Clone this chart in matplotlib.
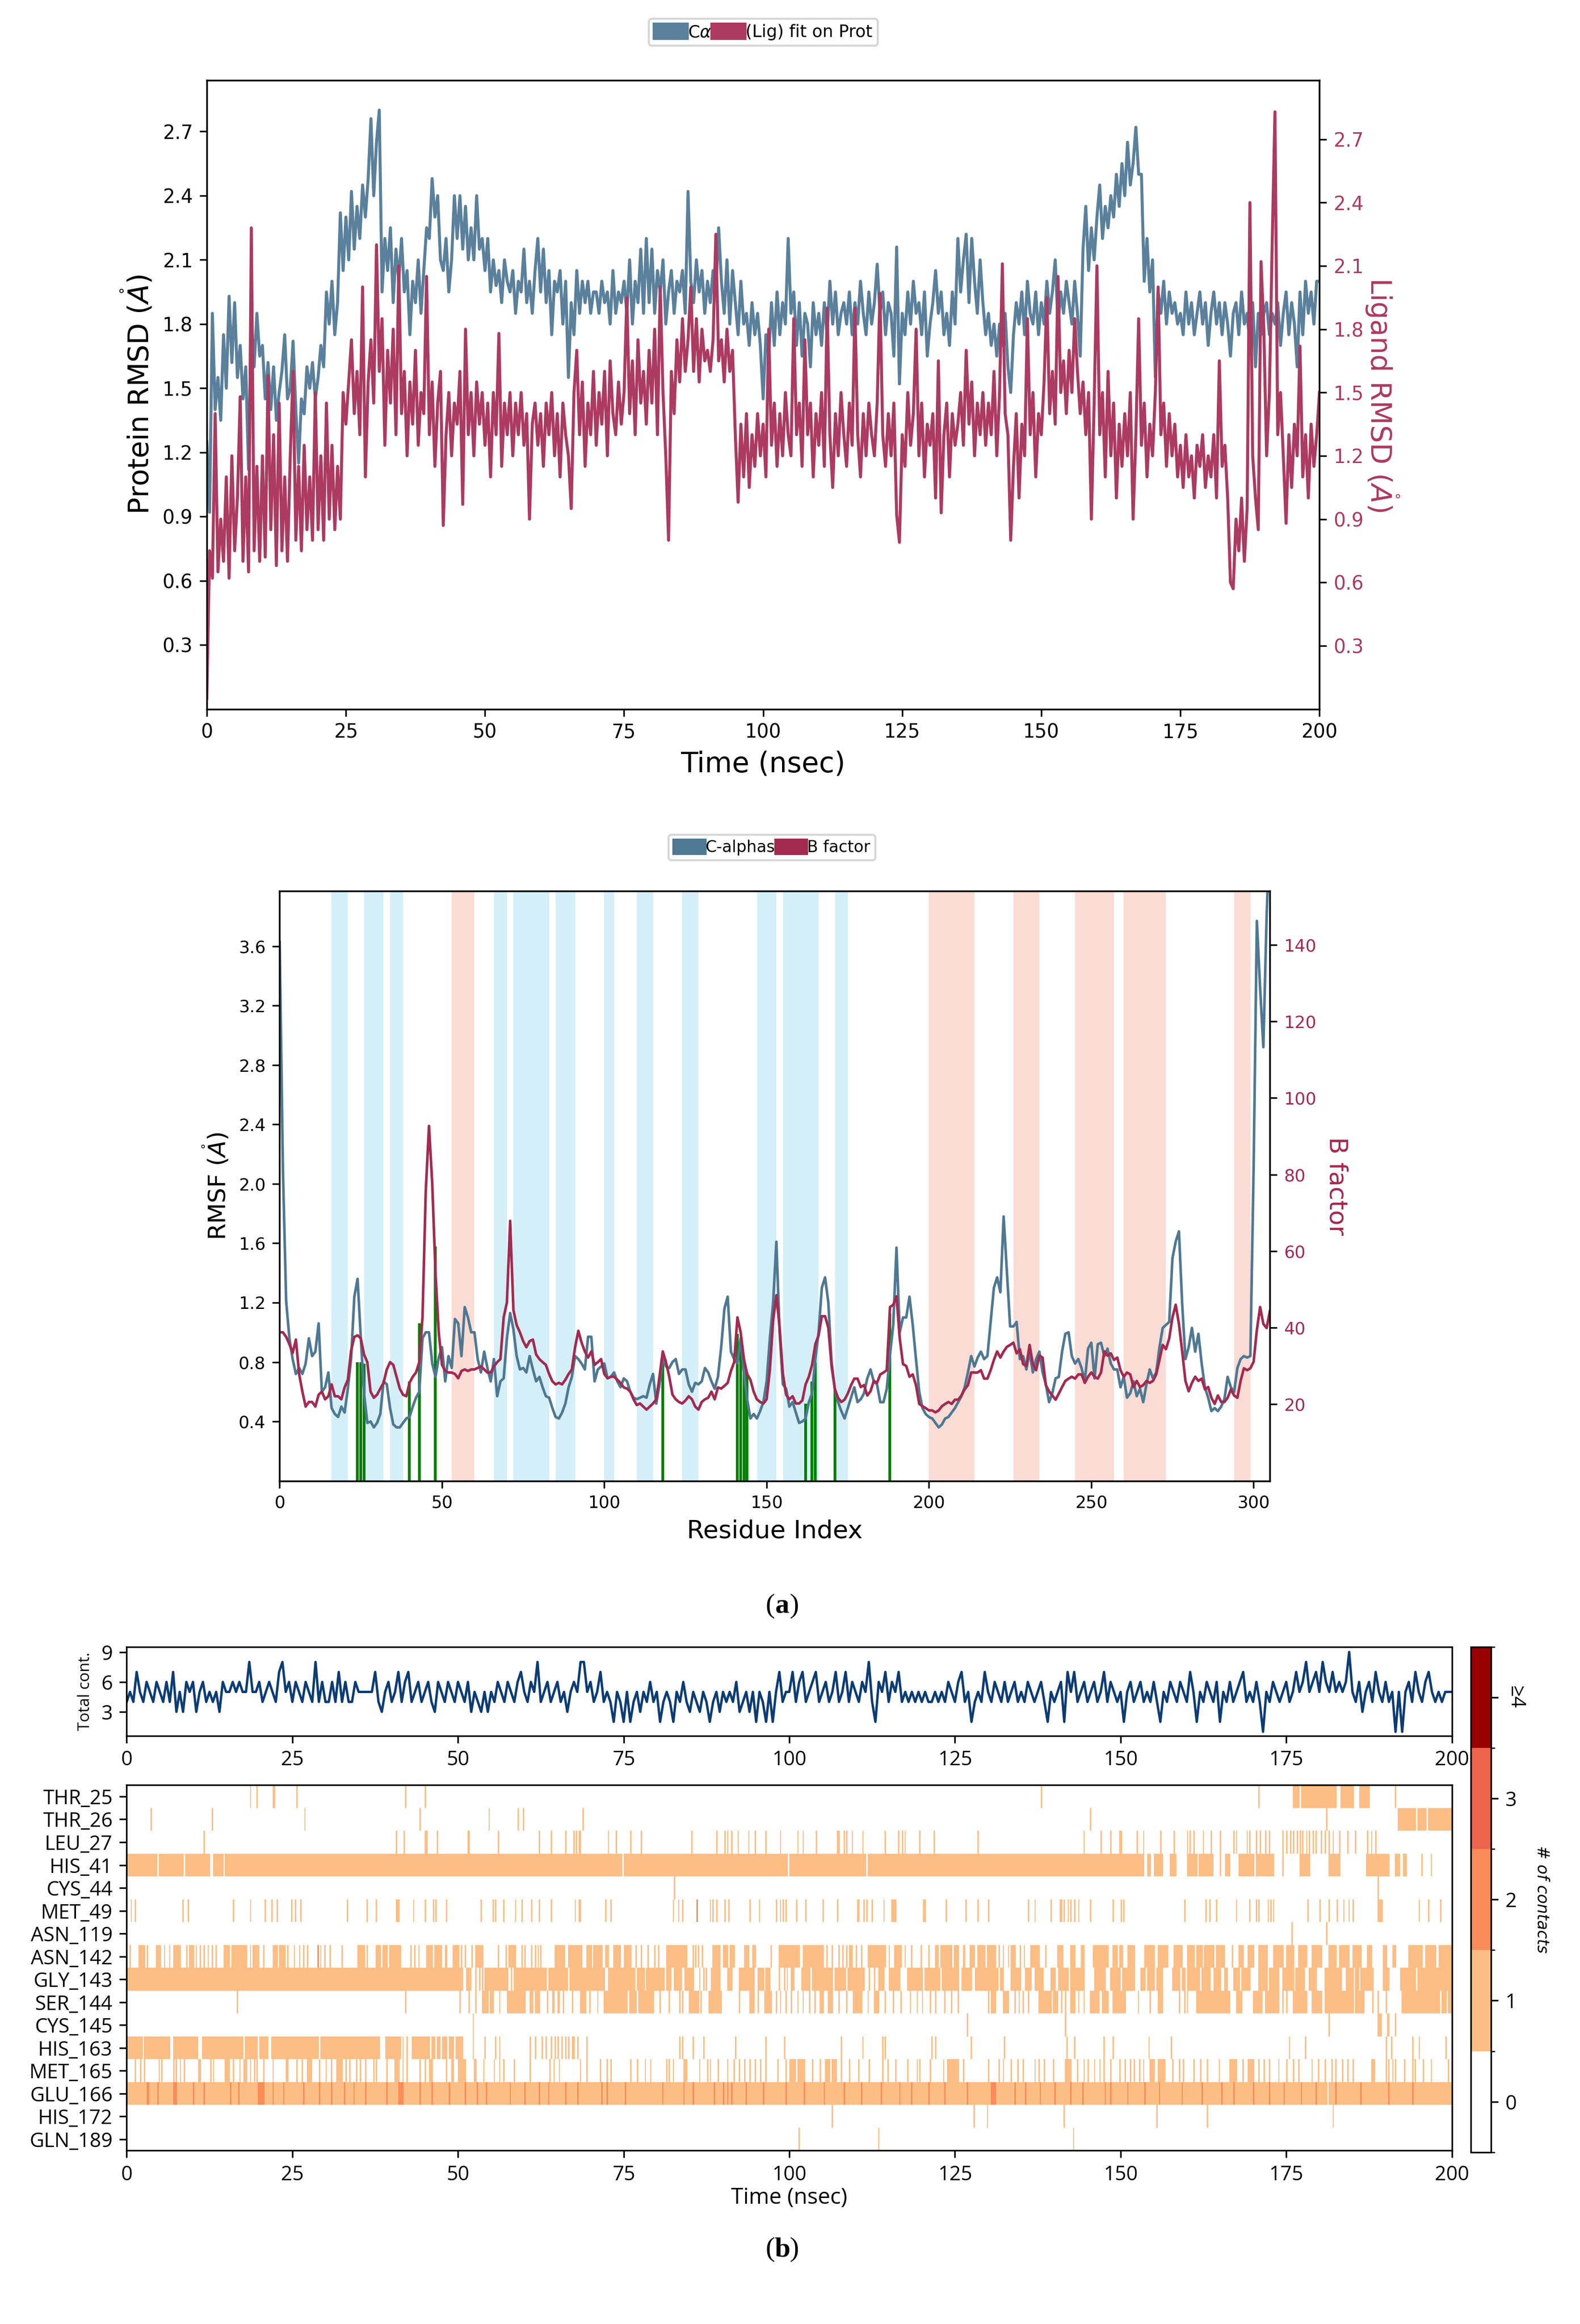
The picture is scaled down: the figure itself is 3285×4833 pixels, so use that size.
import numpy as np
import matplotlib.pyplot as plt
from matplotlib.patches import Patch
from matplotlib.colors import ListedColormap, BoundaryNorm

# ---------------- RMSD (every 0.5 ns, 0-200 ns) ----------------
protein_rmsd = [
    1.25, 0.92, 1.85, 1.4, 1.55, 1.35, 1.75, 1.5, 1.93, 1.62,
    1.9, 1.55, 1.7, 1.45, 1.6, 1.12, 1.82, 1.6, 1.85, 1.65,
    1.7, 1.45, 1.62, 1.4, 1.6, 1.35, 1.48, 1.58, 1.75, 1.45,
    1.5, 1.72, 1.4, 1.15, 1.45, 1.38, 1.6, 1.5, 1.62, 1.45,
    1.55, 1.7, 1.6, 1.95, 1.8, 2.0, 1.75, 1.9, 2.32, 2.05,
    2.3, 2.1, 2.42, 2.15, 2.35, 2.2, 2.45, 2.3, 2.48, 2.76,
    2.4, 2.65, 2.8, 1.95, 2.2, 2.05, 2.25, 1.9, 2.15, 2.0,
    2.2, 1.95, 2.05, 1.75, 2.0, 1.9, 2.1, 1.85, 2.05, 2.25,
    2.2, 2.48, 2.3, 2.4, 2.1, 2.05, 2.2, 1.95, 2.1, 2.4,
    2.2, 2.4, 2.15, 2.35, 2.1, 2.25, 2.1, 2.4, 2.15, 2.2,
    2.05, 2.2, 1.95, 2.1, 1.98, 2.05, 1.9, 2.1, 2.0, 1.95,
    2.05, 1.85, 2.0, 1.95, 2.15, 1.9, 2.0, 1.85, 2.05, 2.2,
    1.95, 2.15, 1.9, 2.05, 1.75, 2.0, 1.95, 2.05, 1.8, 2.0,
    1.55, 1.9, 1.75, 2.05, 1.85, 2.0, 1.9, 2.0, 1.85, 1.95,
    1.95, 1.85, 2.0, 1.9, 1.95, 1.8, 2.05, 1.85, 1.95, 1.9,
    2.0, 1.85, 2.1, 1.8, 2.0, 1.9, 2.15, 1.85, 2.2, 1.9,
    2.15, 1.85, 2.05, 1.95, 2.1, 1.8, 1.95, 2.05, 1.85, 2.0,
    1.95, 2.05, 1.85, 2.42, 2.0, 1.9, 2.1, 1.95, 2.05, 1.85,
    2.0, 1.9, 2.05, 1.95, 2.25, 2.0, 1.85, 2.1, 1.8, 2.05,
    1.9, 1.75, 2.0, 1.8, 1.85, 1.7, 1.9, 1.75, 1.85, 1.7,
    1.45, 1.75, 1.65, 1.9, 1.7, 1.95, 1.75, 1.9, 1.8, 2.2,
    1.85, 1.95, 1.7, 1.9, 1.65, 1.85, 1.8, 1.6, 1.9, 1.75,
    1.85, 1.7, 1.9, 1.75, 2.0, 1.8, 1.95, 1.75, 1.85, 1.9,
    1.8, 1.95, 1.75, 1.9, 1.8, 2.0, 1.85, 1.75, 1.95, 1.8,
    1.9, 2.08, 1.85, 1.95, 1.75, 1.9, 1.85, 1.65, 2.16, 1.52,
    1.85, 1.75, 1.95, 1.8, 2.0, 1.85, 1.9, 1.75, 1.95, 1.65,
    1.8, 1.9, 2.05, 1.85, 1.95, 1.75, 1.85, 1.7, 1.95, 1.8,
    2.2, 1.95, 2.1, 2.22, 1.9, 2.2, 2.0, 1.85, 2.1, 1.9,
    1.75, 1.85, 1.7, 1.8, 1.65, 1.8, 1.7, 1.85, 1.6, 1.48,
    1.75, 1.9, 1.8, 1.95, 1.75, 2.0, 1.85, 1.8, 1.95, 1.75,
    1.9, 1.8, 2.0, 1.85, 1.95, 2.1, 1.8, 1.95, 1.85, 2.0,
    1.9, 1.8, 2.0, 1.85, 1.65, 2.15, 2.35, 2.05, 2.25, 2.1,
    2.3, 2.45, 2.2, 2.35, 2.25, 2.4, 2.3, 2.5, 2.35, 2.55,
    2.4, 2.65, 2.45, 2.55, 2.72, 2.5, 2.5, 2.0, 2.2, 1.95,
    2.1, 1.55, 1.95, 1.85, 2.0, 1.8, 1.95, 1.85, 1.9, 1.8,
    1.85, 1.75, 1.95, 1.8, 1.9, 1.75, 1.85, 1.95, 1.8, 1.9,
    1.7, 1.85, 1.95, 1.8, 1.9, 1.75, 1.9, 1.8, 1.65, 1.85,
    1.9, 1.75, 1.95, 1.8, 1.85, 1.7, 1.9, 1.6, 1.85, 1.75,
    1.85, 1.9, 1.75, 1.85, 1.8, 1.9, 1.7, 1.85, 1.95, 1.75,
    1.9, 1.8, 1.6, 1.95, 1.75, 2.0, 1.85, 1.95, 1.8, 2.0,
    2.0]

ligand_rmsd = [
    0.05, 0.75, 0.62, 1.4, 0.65, 0.9, 0.7, 1.1, 0.62, 1.2,
    0.75, 1.0, 1.48, 0.7, 1.1, 0.65, 2.28, 0.75, 1.15, 0.7,
    1.2, 0.72, 1.58, 0.85, 1.3, 0.68, 1.45, 0.75, 1.1, 0.7,
    1.2, 1.6, 0.8, 1.15, 0.75, 1.25, 0.85, 1.1, 0.8, 1.5,
    0.85, 1.2, 0.8, 1.45, 0.9, 1.25, 0.85, 1.15, 0.9, 1.5,
    1.35, 1.55, 1.75, 1.4, 1.6, 1.3, 2.0, 1.1, 1.55, 1.75,
    1.45, 2.2, 1.6, 1.85, 1.25, 1.7, 1.45, 1.8, 1.3, 2.1,
    1.4, 1.6, 1.2, 1.55, 1.35, 1.7, 1.25, 1.5, 1.4, 2.05,
    1.3, 1.55, 1.15, 1.45, 1.6, 0.87, 1.3, 1.5, 1.2, 1.45,
    1.35, 1.6, 0.97, 1.8, 1.3, 1.5, 1.2, 1.55, 1.35, 1.5,
    1.25, 1.45, 1.1, 1.5, 1.3, 1.78, 1.15, 1.45, 1.3, 1.5,
    1.2, 1.45, 1.3, 1.5, 1.25, 1.4, 0.9, 1.35, 1.45, 1.25,
    1.4, 1.15, 1.45, 1.3, 1.5, 1.2, 1.4, 1.1, 1.45, 1.3,
    1.2, 0.95, 1.5, 1.7, 1.3, 1.55, 1.15, 1.45, 1.3, 1.6,
    1.25, 1.5, 1.35, 1.6, 1.2, 1.65, 1.4, 1.3, 1.55, 1.35,
    1.5, 1.95, 1.4, 1.65, 1.3, 1.75, 1.45, 1.6, 1.35, 1.7,
    1.45, 1.8, 1.3, 2.0, 1.5, 1.2, 0.8, 1.6, 1.4, 1.75,
    1.55, 1.85, 1.6, 1.75, 2.0, 1.6, 1.85, 1.55, 1.8, 1.65,
    1.7, 1.6, 1.75, 2.25, 1.65, 1.75, 1.55, 1.8, 1.6, 1.7,
    1.3, 0.98, 1.35, 1.1, 1.4, 1.05, 1.3, 1.15, 1.4, 1.2,
    1.35, 1.1, 1.8, 1.25, 1.45, 1.15, 1.4, 1.2, 1.5, 1.3,
    1.2, 1.85, 1.3, 1.45, 1.15, 1.75, 1.3, 1.45, 1.1, 1.4,
    1.25, 1.5, 1.15, 1.9, 1.3, 1.05, 1.4, 1.2, 1.5, 1.3,
    1.15, 1.45, 1.25, 1.9, 1.3, 1.1, 1.4, 1.2, 1.45, 1.3,
    1.2, 1.45, 1.97, 1.3, 1.15, 1.4, 1.2, 1.45, 0.92, 0.79,
    1.3, 1.15, 1.5, 1.25, 1.4, 1.8, 1.2, 1.45, 1.1, 1.35,
    1.25, 1.4, 1.0, 1.65, 0.93, 1.3, 1.45, 1.1, 1.4, 1.25,
    1.35, 1.5, 1.25, 1.7, 1.35, 1.55, 1.2, 1.45, 1.3, 1.5,
    1.25, 1.45, 1.3, 1.6, 1.2, 1.5, 2.11, 1.4, 1.3, 0.8,
    1.15, 1.4, 1.0, 1.35, 1.2, 1.85, 1.3, 1.5, 1.1, 1.4,
    1.3, 1.55, 1.95, 1.4, 1.6, 1.35, 2.05, 1.5, 1.65, 1.4,
    1.7, 1.5, 1.85, 1.6, 1.4, 1.55, 1.3, 1.5, 0.9, 1.45,
    2.1, 1.3, 1.5, 1.1, 1.6, 1.2, 1.45, 1.0, 1.35, 1.15,
    1.4, 1.2, 1.5, 0.9, 1.3, 1.85, 1.25, 1.45, 1.1, 1.35,
    1.2, 1.5, 2.0, 1.3, 1.45, 1.15, 1.4, 1.2, 1.35, 1.1,
    1.25, 1.05, 1.3, 1.1, 1.2, 1.0, 1.25, 1.15, 1.3, 1.05,
    1.2, 1.1, 1.3, 1.0, 1.65, 1.15, 1.25, 1.0, 0.6, 0.57,
    0.9, 0.75, 1.0, 0.7, 0.95, 2.4, 1.2, 1.0, 0.85, 2.12,
    1.8, 1.2, 1.5, 2.2, 2.83, 1.3, 1.5, 1.2, 0.88, 1.3,
    1.05, 1.35, 1.2, 1.72, 1.1, 1.3, 1.0, 1.35, 1.15, 1.3,
    1.5]

# ---------------- RMSF / B factor per residue index ----------------
ca_rmsf = [
    3.63, 2.1, 1.21, 0.96, 0.82, 0.72, 0.76, 0.72, 0.79, 0.96,
    0.84, 0.87, 1.06, 0.6, 0.63, 0.73, 0.49, 0.45, 0.43, 0.5,
    0.46, 0.62, 0.82, 1.24, 1.36, 0.96, 0.59, 0.39, 0.4, 0.36,
    0.39, 0.45, 0.67, 0.65, 0.49, 0.38, 0.36, 0.36, 0.39, 0.42,
    0.43, 0.5, 0.56, 0.6, 0.96, 1.0, 1.0, 0.79, 0.7, 0.83,
    0.9, 0.67, 0.84, 0.76, 1.09, 1.06, 0.84, 1.17, 1.1, 1.0,
    1.0, 0.82, 0.73, 0.87, 0.76, 0.67, 0.82, 0.57, 0.67, 0.69,
    0.96, 1.13, 1.02, 0.84, 0.75, 0.76, 0.73, 0.84, 0.75, 0.67,
    0.7, 0.63, 0.57, 0.56, 0.49, 0.43, 0.42, 0.46, 0.52, 0.63,
    0.7, 0.84, 0.82, 0.79, 0.75, 0.97, 0.97, 0.67, 0.75, 0.77,
    0.79, 0.69, 0.7, 0.73, 0.67, 0.63, 0.69, 0.67, 0.6, 0.56,
    0.55, 0.56, 0.57, 0.56, 0.65, 0.72, 0.52, 0.65, 0.83, 0.77,
    0.76, 0.8, 0.82, 0.72, 0.75, 0.75, 0.65, 0.6, 0.66, 0.65,
    0.67, 0.76, 0.73, 0.67, 0.62, 0.7, 0.9, 1.16, 1.24, 0.87,
    0.82, 0.79, 0.96, 0.73, 0.55, 0.42, 0.45, 0.42, 0.47, 0.53,
    0.67, 0.96, 1.2, 1.61, 1.0, 0.65, 0.62, 0.5, 0.53, 0.46,
    0.39, 0.4, 0.42, 0.53, 0.59, 0.82, 1.0, 1.3, 1.37, 1.2,
    0.8, 0.62, 0.53, 0.47, 0.42, 0.49, 0.56, 0.63, 0.53, 0.55,
    0.59, 0.69, 0.75, 0.67, 0.65, 0.53, 0.53, 0.62, 0.85, 1.05,
    1.57, 1.0, 1.1, 1.1, 1.24, 1.05, 0.82, 0.6, 0.49, 0.45,
    0.43, 0.42, 0.39, 0.36, 0.38, 0.42, 0.43, 0.46, 0.49, 0.53,
    0.57, 0.63, 0.73, 0.84, 0.77, 0.83, 0.87, 0.82, 0.84, 1.07,
    1.3, 1.37, 1.27, 1.78, 1.41, 1.04, 1.04, 1.07, 0.82, 0.84,
    0.75, 0.87, 0.73, 0.82, 0.87, 0.73, 0.65, 0.53, 0.59, 0.69,
    0.7, 0.87, 0.99, 1.0, 0.84, 0.79, 0.82, 0.76, 0.67, 0.89,
    0.93, 0.69, 0.92, 0.93, 0.84, 0.89, 0.79, 0.75, 0.75, 0.63,
    0.7, 0.56, 0.59, 0.67, 0.57, 0.62, 0.53, 0.65, 0.75, 0.69,
    0.73, 0.9, 1.03, 1.05, 1.07, 1.5, 1.61, 1.68, 1.19, 0.82,
    0.9, 1.03, 0.87, 0.99, 0.79, 0.63, 0.56, 0.47, 0.49, 0.47,
    0.5, 0.55, 0.7, 0.63, 0.6, 0.76, 0.82, 0.84, 0.83, 0.84,
    2.1, 3.77, 3.32, 2.92, 3.8, 4.4]

b_factor = [
    38.8, 38.8, 37.6, 35.7, 33.4, 36.9, 27.9, 23.3, 19.4, 20.6,
    20.6, 19.4, 22.5, 23.3, 21.3, 22.1, 25.2, 22.1, 22.1, 21.3,
    24.4, 26.4, 34.0, 37.6, 38.0, 37.2, 33.0, 31.0, 23.3, 21.7,
    22.5, 24.1, 25.6, 29.1, 31.0, 30.3, 27.2, 24.1, 22.5, 22.1,
    25.6, 27.2, 28.3, 31.0, 42.7, 75.7, 92.7, 77.6, 54.3, 38.8,
    30.3, 28.7, 28.3, 28.3, 27.9, 26.8, 28.7, 29.1, 28.7, 29.1,
    29.1, 29.5, 29.9, 29.1, 28.3, 28.3, 29.9, 31.0, 31.8, 42.7,
    46.6, 67.9, 44.6, 40.7, 38.8, 36.5, 34.9, 36.5, 36.9, 33.0,
    31.8, 31.0, 30.3, 27.9, 26.0, 25.2, 25.6, 25.2, 26.4, 27.9,
    29.1, 34.9, 39.2, 36.1, 33.8, 32.2, 33.8, 30.3, 31.0, 31.8,
    27.9, 26.8, 27.2, 27.2, 26.4, 25.6, 24.4, 24.1, 23.3, 21.3,
    19.8, 20.2, 19.4, 18.6, 19.4, 20.2, 21.3, 27.2, 33.8, 31.0,
    27.2, 22.5, 21.3, 20.6, 20.2, 21.0, 22.1, 21.3, 19.4, 18.6,
    20.6, 21.3, 21.7, 23.3, 21.3, 24.4, 24.1, 24.8, 25.6, 28.7,
    31.0, 42.7, 38.8, 31.8, 27.9, 26.4, 23.3, 21.3, 20.6, 20.2,
    21.3, 29.1, 42.0, 48.5, 40.0, 28.0, 22.5, 21.3, 22.1, 20.2,
    20.2, 21.0, 25.2, 27.2, 30.3, 35.7, 38.0, 43.0, 43.0, 40.0,
    30.0, 24.0, 21.7, 20.6, 21.2, 22.8, 25.0, 26.7, 26.7, 24.5,
    25.0, 22.3, 23.4, 26.1, 25.6, 27.8, 28.3, 28.9, 45.4, 46.0,
    48.2, 37.2, 30.5, 30.0, 27.2, 27.8, 25.0, 20.1, 19.5, 19.0,
    18.4, 18.4, 17.9, 18.4, 19.5, 20.1, 20.6, 20.1, 21.2, 21.2,
    22.3, 23.9, 25.0, 28.3, 28.3, 28.3, 28.9, 26.7, 26.7, 28.9,
    31.6, 33.8, 32.2, 33.8, 35.0, 35.5, 36.1, 33.3, 34.4, 30.5,
    30.0, 35.5, 30.5, 28.9, 32.7, 32.2, 25.0, 23.4, 22.3, 21.2,
    22.8, 24.5, 26.1, 26.7, 27.2, 26.7, 27.8, 27.8, 25.6, 27.2,
    28.3, 27.2, 26.7, 28.3, 33.8, 32.7, 33.3, 31.6, 32.2, 28.9,
    27.2, 28.3, 27.8, 24.5, 26.1, 24.5, 25.0, 26.1, 25.6, 26.1,
    27.8, 31.6, 35.5, 34.4, 37.2, 42.7, 46.0, 41.0, 33.8, 26.1,
    23.4, 25.6, 27.2, 26.1, 26.7, 23.9, 24.5, 21.7, 20.1, 22.3,
    20.6, 20.6, 21.7, 23.9, 22.3, 21.7, 26.1, 29.4, 28.9, 29.4,
    31.1, 39.4, 45.4, 41.0, 39.9, 44.3]

helix_spans = [(53, 60), (200, 214), (226, 234), (245, 257), (260, 273), (294, 299)]
strand_spans = [(16, 21), (26, 32), (34, 38), (66, 70), (72, 83), (85, 91), (100, 103),
                (110, 115), (124, 129), (147, 153), (155, 166), (171, 175)]

contact_res = [24, 25, 26, 40, 43, 48, 118, 141, 142, 143, 144, 162, 164, 165, 171, 188]
contact_height = [0.8, 0.8, 0.79, 0.67, 1.06, 1.58, 0.83, 0.99, 0.96, 0.8, 0.73,
                  0.52, 0.67, 0.8, 0.62, 1.13]

# ---------------- protein-ligand contacts ----------------
total_contacts = ("4547546546 5464735365 6356454536 5565655855 6456547856 "
                  "4654654846 4464746446 5555574356 4574674564 5643654654 "
                  "6546354353 5465465467 5465845645 6453565885 6457454254 "
                  "2524535464 5245425464 3543542453 5454634535 2542525745 "
                  "5746745674 5645745746 5465842657 4657454545 4544545465 "
                  "4674524547 5465464564 5465456425 4562757456 4564574654 "
                  "5256456454 6425465465 4752546546 2546456745 4641546545 "
                  "6457568567 5865756569 5463564754 6451515647 5467545455 5")

residues = ["THR_25", "THR_26", "LEU_27", "HIS_41", "CYS_44", "MET_49", "ASN_119",
            "ASN_142", "GLY_143", "SER_144", "CYS_145", "HIS_163", "MET_165",
            "GLU_166", "HIS_172", "GLN_189"]

# contact times in ns: single number = one frame, tuple = span
thr25 = [18.7, 19.6, (22.0, 22.3), 25.7, 42.1, 45.0, 138.0, 170.8, (176.0, 176.8),
         (177.3, 178.3), (178.6, 179.4), (179.6, 180.5), (180.7, 182.6), (183.3, 185.0),
         (186.0, 187.5), 191.6]
thr26 = [3.8, 12.9, 26.9, 44.3, 54.6, 59.1, 59.9, 68.9, 145.6, 181.1, (191.8, 193.4),
         (193.6, 194.6), (194.8, 196.2), (196.4, 199.8)]
leu27 = [11.7, 40.7, 41.9, 45.0, 45.3, 46.9, 51.4, 51.8, 56.0, 62.2, 64.1, 66.2, 67.5,
         67.9, 68.2, 68.6, 72.7, 73.9, 76.1, 77.7, 85.3, 89.1, 90.2, 90.7, 91.3, 92.2,
         93.9, 94.9, 96.5, 98.7, 101.3, 102.0, 104.0, 107.2, 107.6, 108.3, 108.7, 109.5,
         111.0, 114.6, 116.4, 117.0, 117.6, 119.7, 121.9, 128.5, 144.6, 147.2, 148.4,
         149.8, 150.2, 152.4, 153.6, 156.0, 158.0, 160.0, 160.5, 161.0, 162.4, 163.7,
         165.2, 167.0, 167.4, 169.1, 169.6, 170.4, 171.2, 171.9, 172.6, 174.6, 175.1,
         175.7, 176.2, 176.7, 177.1, 177.6, 178.0, 178.5, 179.0, 179.6, 180.3, 180.9,
         181.5, 182.2, 183.0, 184.3, 185.4, 187.3, 187.9, 188.6]
his41 = [(0, 3.6), (3.9, 4.5), (4.9, 8.5), (8.8, 10.3), (10.6, 12.4), (13.0, 13.6),
         (13.9, 14.5), (14.8, 15.6), (15.9, 38.0), (38.2, 69.9), (70.1, 74.8),
         (75.0, 78.7), (78.9, 82.0), (82.2, 86.3), (86.5, 88.2), (88.4, 99.8),
         (100.0, 107.8), (108.0, 111.6), (111.8, 123.0), (123.2, 130.5), (130.7, 134.9),
         (135.1, 137.7), (137.9, 141.9), (142.1, 148.5), (148.7, 150.5), (150.7, 153.6),
         (154.2, 154.6), (155.0, 156.3), (157.6, 158.3), (160.1, 161.4), (161.9, 163.8),
         165.2, (165.9, 166.6), (167.9, 170.0), (170.4, 173.0), 174.5, (177.1, 178.6),
         (181.5, 183.0), (187.1, 190.5), (191.4, 192.0), (192.7, 193.1), 195.5, 196.8]
cys44 = [82.8, 188.8]
met49 = [0.7, 1.4, 8.6, 9.3, 16.0, 18.7, 20.9, 21.9, 22.7, 24.9, 25.5, 26.3, 33.3, 36.3,
         37.7, (40.7, 41.0), 43.3, 45.1, 46.4, 46.8, 48.4, 53.5, 55.2, 55.6, 56.9, 58.6,
         59.6, 61.0, 62.2, 64.1, 67.8, 68.2, 68.6, 72.2, 73.1, 82.6, 83.3, 83.9, 86.1,
         88.1, 88.6, 89.1, 90.3, 90.9, 94.1, 95.6, 98.1, 98.7, 99.1, 99.6, 101.1, 102.5,
         105.0, 107.3, 110.2, 110.6, 111.2, 111.7, 112.5, 114.2, (115.5, 116.1), 120.3,
         120.6, 123.7, 126.7, 128.4, 130.1, 136.1, 137.2, 139.4, 140.8, 141.1, 141.5,
         142.1, 142.5, 143.0, 143.7, 145.5, 148.8, 150.0, 150.4, 159.7, 162.8, 163.6,
         164.6, 167.4, 169.6, 170.4, 170.8, 172.3, 172.7, 173.2, 178.3, 180.1, 181.5,
         182.7, 183.7, 184.5, 185.0, (188.8, 189.5), 195.2, 196.4, 198.3]
asn119 = [175.8, 181.0]
asn142 = [0.4, (1.9, 2.8), 3.1, (4.5, 5.1), 5.7, 6.4, (7.0, 8.1), 9.0, (9.6, 10.0), 10.4,
          11.0, 11.7, 12.3, 12.9, 13.4, (14.6, 15.5), 15.8, 16.1, (16.3, 17.0),
          (17.4, 18.0), 18.7, (19.1, 19.9), 20.6, (22.1, 22.7), (23.0, 23.6), 23.8, 24.4,
          25.3, 26.1, 26.7, 27.4, 28.9, 29.4, 29.9, 30.6, 32.5, (34.9, 35.9), 36.4,
          (37.6, 38.2), (38.6, 39.3), (39.6, 41.0), 41.4, 42.9, 43.5, 44.1, (45.2, 46.1),
          (46.5, 47.5), (48.0, 48.4), (49.4, 50.1), 50.5, 51.1, 52.1, (52.6, 53.7), 56.0,
          57.3, 57.6, (57.9, 58.6), 59.6, 60.0, 61.1, 61.7, 62.1, 62.4, 64.7, (64.9, 66.1),
          (66.7, 67.4), (67.6, 68.8), (69.5, 70.1), (70.6, 71.0), (71.3, 71.8),
          (72.2, 72.7), (73.6, 74.6), (75.1, 76.1), 76.9, 77.8, 78.8, 79.8, 80.2,
          (81.6, 82.4), (82.8, 83.5), (83.8, 84.5), 85.4, 85.9, 86.2, 86.9, (88.6, 89.6),
          (90.1, 90.8), (91.1, 91.7), (93.2, 93.9), (94.5, 94.9), 97.2, (98.4, 99.4),
          (99.8, 100.2), (100.6, 101.5), (102.0, 103.0), (103.3, 104.2), (104.5, 105.1),
          105.7, 106.6, 107.4, 108.1, 108.7, (109.1, 109.5), 110.0, 110.8, (111.9, 113.0),
          (113.3, 114.4), 115.0, (115.9, 116.9), 117.6, 118.6, 119.9, 121.0, (122.0, 122.5),
          (122.9, 124.4), (124.8, 125.6), (126.3, 126.5), (127.3, 127.8), (128.6, 129.6),
          (129.9, 131.0), 131.7, 132.3, 133.0, (133.6, 134.0), 134.9, 135.5, (136.6, 137.7),
          138.7, (140.5, 141.3), (142.4, 143.0), (144.1, 144.5), (145.9, 146.8),
          (147.1, 148.2), (148.8, 149.4), (149.9, 150.3), (151.2, 152.0), (153.7, 155.0),
          (155.7, 157.1), (158.0, 159.3), (160.1, 161.0), (161.4, 162.3), (162.7, 164.0),
          (164.4, 165.7), 166.8, (167.9, 168.5), (169.3, 170.2), (170.8, 172.1),
          (173.2, 174.5), (175.0, 176.2), (176.8, 178.1), (178.8, 180.3), (181.5, 182.6),
          (183.0, 184.5), (185.0, 186.3), (187.3, 187.8), (189.7, 190.1), (191.0, 191.4),
          (193.5, 195.5), (196.0, 197.5), (198.0, 200.0)]
gly143 = [(0, 6.7), (6.9, 18.8), (19.0, 21.1), (21.3, 30.9), (31.1, 48.2), (48.5, 50.8),
          (51.3, 51.9), 52.8, 53.3, 53.6, (54.1, 57.5), 58.0, (58.4, 59.4), (59.8, 63.2),
          (63.6, 66.6), (66.9, 69.0), (69.3, 70.0), (70.3, 72.1), (72.7, 74.4),
          (74.8, 76.0), (76.3, 76.8), (77.1, 78.0), (78.4, 81.1), (81.6, 82.0),
          (82.8, 83.7), (84.3, 85.4), 86.4, 87.0, 87.5, (88.3, 89.6), (90.7, 91.3),
          (92.4, 94.7), (95.3, 96.0), (96.4, 97.0), 98.5, 99.2, 99.8, (100.2, 100.8),
          (101.9, 103.0), (103.4, 105.3), (105.5, 106.4), (106.8, 107.2), (107.6, 108.5),
          (108.9, 111.2), 112.1, 112.8, (113.5, 114.2), (115.0, 116.7), (117.8, 120.1),
          (120.6, 122.7), (123.1, 125.6), (126.1, 127.6), (128.0, 128.8), (129.2, 130.4),
          (130.6, 131.5), (131.9, 132.3), (133.6, 134.9), (135.7, 136.4), (137.2, 138.3),
          (139.6, 140.2), (140.7, 142.2), (142.6, 143.9), (144.1, 144.5), (146.2, 147.7),
          (148.6, 149.9), (150.3, 152.2), (153.1, 153.7), (154.2, 155.0), (155.4, 156.3),
          (157.8, 158.9), (159.3, 159.7), (160.1, 161.9), (162.3, 163.6), (164.0, 165.1),
          (165.7, 166.1), (167.0, 167.9), (168.3, 169.6), (170.8, 172.1), (172.6, 173.8),
          (174.5, 176.0), (176.6, 177.7), (178.6, 179.4), (180.9, 183.3), (184.1, 185.0),
          (185.4, 185.8), (186.3, 188.2), (189.7, 190.5), (192.3, 194.5), (194.8, 196.9),
          (197.2, 200.0)]
ser144 = [16.7, 42.1, 50.2, 51.6, 52.6, (53.7, 54.5), (54.9, 55.3), 56.2, (57.5, 60.1),
          (60.9, 61.3), (61.8, 62.2), 63.5, 64.2, 64.6, 65.0, 65.3, 65.9, 67.2,
          (68.6, 69.3), 69.9, 71.0, (72.0, 73.1), (73.3, 74.4), (74.8, 75.6), (75.9, 76.9),
          (77.3, 78.2), (78.6, 79.4), 80.5, 81.9, 83.5, 83.9, (84.9, 86.2), 86.7,
          (87.9, 89.8), 92.6, (94.1, 94.7), 95.3, (96.2, 97.2), 98.1, 98.7, 99.6, 100.2,
          101.3, 102.1, 103.0, 103.8, (104.7, 105.1), (105.9, 106.6), 107.6, 108.7,
          (109.7, 110.8), 111.9, (112.9, 113.6), 114.6, 115.7, 116.9, 118.2, 119.3, 120.1,
          121.2, 122.0, 123.5, 124.6, 125.4, 130.0, (130.6, 131.2), (132.3, 133.0), 134.0,
          134.7, 135.3, 136.1, (137.7, 139.4), (139.8, 140.5), 141.1, 141.7, (142.6, 143.0),
          143.7, 144.5, (145.4, 146.7), (147.3, 148.2), (148.8, 150.7), 152.7, 154.6,
          (155.7, 156.3), 158.9, 159.7, 160.1, (161.4, 166.6), (167.4, 168.3),
          (170.2, 171.3), (171.9, 173.8), 174.5, 175.1, (176.0, 178.1), (178.8, 180.3),
          (180.9, 185.0), (185.4, 186.7), 188.0, 188.8, 190.1, (192.5, 196.9),
          (197.2, 198.0), (198.5, 199.2), (199.5, 200.0)]
cys145 = [52.3, 126.9, 141.7, 181.5, (188.8, 189.3), (190.3, 190.5), (191.4, 191.6)]
his163 = [(0, 2.4), (2.7, 6.4), (7.0, 10.7), (11.4, 17.5), (17.8, 19.7), (20.0, 21.3),
          (21.9, 26.2), (26.5, 27.1), (27.4, 28.9), (29.2, 36.2), (36.5, 38.1),
          (39.1, 41.4), 41.8, 42.4, (43.0, 45.6), (46.1, 46.5), (46.9, 47.3), (47.8, 48.2),
          (48.6, 49.2), (49.7, 50.7), 52.2, 54.1, 55.6, 56.2, 60.9, 61.8, 62.6, 63.2, 64.1,
          64.7, 65.0, 65.7, 66.3, 66.7, 67.2, 67.6, 68.0, 69.5, 83.5, 83.9, 85.4, 87.1,
          91.9, 96.5, 99.3, 107.8, 111.1, 114.0, 114.6, 121.4, 122.0, 127.5, 132.4, 141.9,
          143.2, 147.4, 148.8, 154.3, 157.7, 175.5, 177.9, 190.1, 190.8, 194.2, 195.2, 199.1]
met165 = [1.3, 2.1, 2.8, 4.9, 5.3, 7.0, 7.6, 8.1, 8.7, (10.8, 11.2), 12.7, 13.2,
          (14.9, 15.3), 15.5, 16.1, 17.2, (17.6, 18.0), 18.7, 19.3, 19.7, 20.6, 22.1,
          (24.0, 24.4), 25.7, 26.5, (27.4, 27.8), 29.1, 30.1, 30.8, (31.6, 32.5), 33.1,
          33.7, 34.6, 35.4, 36.1, 37.4, 37.8, 39.3, (40.5, 41.0), 41.8, 42.4, 44.4, 45.0,
          (45.6, 46.1), 48.2, (49.0, 49.4), (50.1, 51.1), 52.4, 52.8, 53.9, 55.4, 56.2,
          56.9, 58.4, 60.9, 63.9, 64.4, 65.3, 68.4, 69.5, 71.6, 72.5, 73.1, 76.0, 77.1,
          78.2, 79.0, 81.4, 81.9, 82.6, (84.1, 84.5), 86.4, 87.7, 88.1, 89.2, 90.7, 91.7,
          92.4, 93.2, 94.1, 94.9, 95.8, 96.6, 98.3, 99.4, (100.0, 100.9), (101.2, 102.3),
          103.4, 104.7, (105.5, 106.1), (106.4, 107.0), 107.8, 109.1, 110.6, 112.1, 114.0,
          114.8, 116.1, 117.8, 119.3, 119.7, 121.2, 123.3, (123.9, 125.2), 125.6, 126.3,
          130.2, 131.7, 132.3, 133.6, 134.5, 135.3, 137.0, 137.7, 138.5, 139.8,
          (141.7, 142.6), 143.5, 144.5, 145.2, 146.0, 146.9, 147.5, 148.6, 149.9, 150.7,
          151.4, 152.0, 152.9, 153.5, (154.4, 155.0), (155.7, 156.7), 157.8, 158.9, 159.5,
          161.0, 162.1, 163.1, 164.9, (166.4, 167.4), 168.5, (169.3, 170.0), 170.8, 171.7,
          172.6, 173.8, 175.1, 176.0, 176.8, 178.8, 179.8, 180.9, 181.8, 182.6, 183.5,
          184.3, 185.2, (187.8, 188.3), 190.1, 190.6, 191.0, 191.6, 192.9, 194.0, 194.4,
          195.7, 196.8, 199.5]
glu166 = [(0, 8.1), (8.3, 76.4), (76.6, 181.2), (181.4, 200.0)]
his172 = [106.4, 127.8, 129.8, 141.5, 155.4, 163.1, 182.1]
gln189 = [101.5, 113.5, 142.9]

contact_rows = [thr25, thr26, leu27, his41, cys44, met49, asn119, asn142, gly143,
                ser144, cys145, his163, met165, glu166, his172, gln189]

# frames with two contacts
glu166_double = [(3.0, 3.2), 4.7, (7.0, 7.6), 10.0, 11.7, 15.7, 16.8, (19.9, 20.6), 22.1,
                 23.6, 26.7, 29.1, 30.8, 32.9, 34.4, 36.1, 39.3, (41.0, 41.6), 44.4, 46.1,
                 48.8, 51.1, 52.9, 54.3, 57.9, 60.1, 62.2, 63.7, 66.3, 68.0, 71.8, 72.4,
                 75.2, 80.9, 84.1, 85.6, 88.8, 90.0, 90.7, 91.3, 93.4, 96.0, 99.4, 102.3,
                 105.3, 108.3, 110.8, 113.8, 116.7, 118.4, 121.0, 123.5, 126.9,
                 (130.4, 131.0), 134.0, 135.7, 137.9, 140.0, 142.6, 144.3, 147.7, 148.4,
                 151.2, 153.7, 155.9, 159.3, 162.3, 165.3, 167.0, 170.0, 172.6, 174.7,
                 177.3, 179.4, 182.4, 186.3, 190.6, 194.0]
double_rows = {13: glu166_double, 7: [28.9], 5: [86.1]}

# ---------------- colours ----------------
c_prot = "#5A809B"
c_lig = "#AC3A61"
c_ca = "#4F7892"
c_bf = "#A32A50"
c_helix = "#FADCD5"
c_strand = "#D5EFF8"
c_total = "#0B3C73"

fig = plt.figure(figsize=(3285 / 300, 4833 / 300), dpi=300)

# ---------------- panel 1 : RMSD ----------------
t_rmsd = np.linspace(0, 200, len(protein_rmsd))
ax1 = fig.add_axes([0.1309, 0.6949, 0.7042, 0.2706])
ax1.plot(t_rmsd, protein_rmsd, color=c_prot, lw=1.5)
ax1.set_xlim(0, 200)
ax1.set_ylim(0, 2.94)
ax1.set_xticks(np.arange(0, 201, 25))
ax1.set_yticks(np.arange(0.3, 2.71, 0.3))
ax1.tick_params(labelsize=9.5)
ax1.set_xlabel("Time (nsec)", fontsize=14)
ax1.set_ylabel(r"Protein RMSD ($\mathring{A}$)", fontsize=14)

ax1b = ax1.twinx()
ax1b.plot(t_rmsd, ligand_rmsd, color=c_lig, lw=1.5)
ax1b.set_ylim(0, 2.98)
ax1b.set_yticks(np.arange(0.3, 2.71, 0.3))
ax1b.tick_params(labelsize=9.5, labelcolor=c_lig)
ax1b.set_ylabel(r"Ligand RMSD ($\mathring{A}$)", fontsize=14, color=c_lig,
                rotation=270, labelpad=18)

fig.legend(handles=[Patch(color=c_prot, label=r"C$\alpha$"),
                    Patch(color=c_lig, label="(Lig) fit on Prot")],
           loc="center", bbox_to_anchor=(0.483, 0.9862), ncol=2, fontsize=8.5,
           handlelength=2.0, handleheight=1.0, handletextpad=0.0, columnspacing=0.0,
           borderpad=0.3)

# ---------------- panel 2 : RMSF ----------------
res_idx = np.arange(len(ca_rmsf))
ax2 = fig.add_axes([0.177, 0.3628, 0.6267, 0.2537])
for a, b in strand_spans:
    ax2.axvspan(a, b, color=c_strand, lw=0, zorder=0)
for a, b in helix_spans:
    ax2.axvspan(a, b, color=c_helix, lw=0, zorder=0)
ax2.vlines(contact_res, 0, contact_height, color="green", lw=1.4, zorder=1)
ax2.plot(res_idx, ca_rmsf, color=c_ca, lw=1.3, zorder=2)
ax2.set_xlim(0, 305)
ax2.set_ylim(0, 3.97)
ax2.set_xticks(np.arange(0, 301, 50))
ax2.set_yticks(np.arange(0.4, 3.61, 0.4))
ax2.tick_params(labelsize=8.5)
ax2.set_xlabel("Residue Index", fontsize=12.5)
ax2.set_ylabel(r"RMSF ($\mathring{A}$)", fontsize=12)

ax2b = ax2.twinx()
ax2b.plot(np.arange(len(b_factor)), b_factor, color=c_bf, lw=1.3)
ax2b.set_ylim(0, 154)
ax2b.set_yticks(np.arange(20, 141, 20))
ax2b.tick_params(labelsize=8.5, labelcolor=c_bf)
ax2b.set_ylabel("B factor", fontsize=12.5, color=c_bf, rotation=270, labelpad=16)

fig.legend(handles=[Patch(color=c_ca, label="C-alphas"),
                    Patch(color=c_bf, label="B factor")],
           loc="center", bbox_to_anchor=(0.4885, 0.6353), ncol=2, fontsize=8,
           handlelength=2.0, handleheight=1.0, handletextpad=0.0, columnspacing=0.0,
           borderpad=0.3)


def panel_tag(x, y, letter):
    fig.text(x - 0.0045, y, "(", ha="right", va="center", fontsize=14,
             family="Liberation Serif")
    fig.text(x, y, letter, ha="center", va="center", fontsize=14,
             family="Liberation Serif", weight="bold")
    fig.text(x + 0.0045, y, ")", ha="left", va="center", fontsize=14,
             family="Liberation Serif")


panel_tag(0.495, 0.3089, "a")

# ---------------- panel 3 : contacts ----------------
bfont = "Open Sans"
cont = [int(c) for c in total_contacts.replace(" ", "")]
t_cont = np.linspace(0, 200, len(cont))
ax3 = fig.add_axes([0.0802, 0.2531, 0.8387, 0.0382])
ax3.plot(t_cont, cont, color=c_total, lw=1.2)
ax3.set_xlim(0, 200)
ax3.set_ylim(0.6, 9.5)
ax3.set_yticks([3, 6, 9])
ax3.set_xticks(np.arange(0, 201, 25))
ax3.tick_params(labelsize=10)
ax3.set_ylabel("Total cont.", fontsize=8, family=bfont)
for lab in ax3.get_xticklabels() + ax3.get_yticklabels():
    lab.set_family(bfont)

n_frames = 1000
dt = 200 / n_frames
grid = np.zeros((len(residues), n_frames))


def mark(row, items, level):
    for it in items:
        if isinstance(it, tuple):
            a, b = it
        else:
            a = b = it
        i0 = min(int(a / dt), n_frames - 1)
        i1 = min(int(b / dt), n_frames - 1)
        grid[row, i0:i1 + 1] = level


for r, items in enumerate(contact_rows):
    mark(r, items, 1)
for r, items in double_rows.items():
    mark(r, items, 2)

cmap = ListedColormap(["#FFFFFF", "#FDBE85", "#FA8C5A", "#EB644B", "#990000"])
norm = BoundaryNorm([-0.5, 0.5, 1.5, 2.5, 3.5, 4.5], cmap.N)

ax4 = fig.add_axes([0.0802, 0.0746, 0.8387, 0.1573])
mesh = ax4.pcolormesh(np.linspace(0, 200, n_frames + 1), np.arange(len(residues) + 1),
                      grid, cmap=cmap, norm=norm, antialiased=False, edgecolors="none")
ax4.set_xlim(0, 200)
ax4.set_ylim(len(residues), 0)
ax4.set_yticks(np.arange(len(residues)) + 0.5)
ax4.set_yticklabels(residues)
ax4.set_xticks(np.arange(0, 201, 25))
ax4.tick_params(labelsize=10)
for lab in ax4.get_xticklabels() + ax4.get_yticklabels():
    lab.set_family(bfont)
ax4.set_xlabel("Time (nsec)", fontsize=11, family=bfont, labelpad=1)

cax = fig.add_axes([0.9309, 0.0739, 0.0129, 0.2175])
cb = fig.colorbar(mesh, cax=cax, ticks=[0, 1, 2, 3, 4])
cb.ax.set_yticklabels(["0", "1", "2", "3", "≥4"])
for lab in cb.ax.get_yticklabels():
    lab.set_family(bfont)
    lab.set_fontsize(10)
cb.ax.get_yticklabels()[-1].set_rotation(270)
cb.ax.get_yticklabels()[-1].set_va("center")
cb.set_label("# of contacts", rotation=270, fontsize=8, style="italic", labelpad=12)

panel_tag(0.495, 0.032, "b")

fig.savefig("out.png", dpi=300)
